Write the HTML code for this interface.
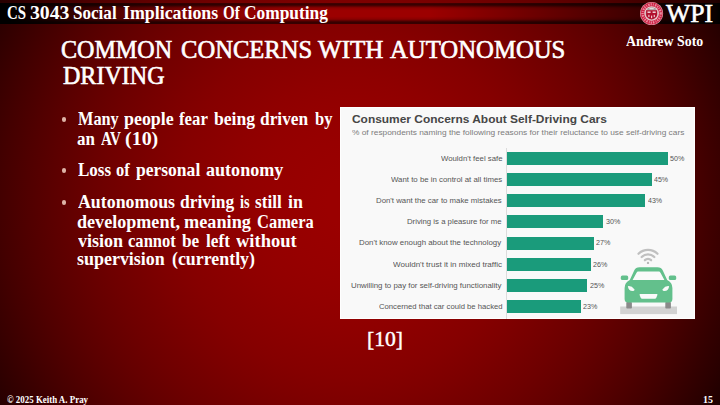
<!DOCTYPE html>
<html>
<head>
<meta charset="utf-8">
<title>Common Concerns With Autonomous Driving</title>
<style>
  html, body { margin: 0; padding: 0; }
  body {
    width: 720px; height: 405px; overflow: hidden; position: relative;
    background: #3a0000;
    font-family: "Liberation Serif", serif; color: #fff;
  }
  .bg {
    position: absolute; left: 0; top: 0; width: 720px; height: 405px;
    background: radial-gradient(circle 500px at 352px 203px, rgb(154,0,0) 0px, rgb(154,0,0) 25px, rgb(152,0,0) 50px, rgb(150,0,0) 75px, rgb(147,0,0) 100px, rgb(143,0,0) 125px, rgb(138,0,0) 150px, rgb(133,0,0) 175px, rgb(126,0,0) 200px, rgb(118,0,0) 225px, rgb(110,0,0) 250px, rgb(101,0,0) 275px, rgb(91,0,0) 300px, rgb(80,0,0) 325px, rgb(68,0,0) 350px, rgb(55,0,0) 375px, rgb(42,0,0) 400px, rgb(27,0,0) 425px, rgb(12,0,0) 450px, rgb(0,0,0) 475px);
  }
  .bar {
    position: absolute; left: 0; top: 2.5px; width: 720px; height: 21px;
    background: linear-gradient(to bottom, #4a0000 0%, #340000 5%, #3c0000 10%, #8a0000 23%, #9c0000 36%, #9c0000 64%, #8a0000 77%, #3c0000 90%, #300000 96%, #440000 100%);
  }
  .barfade {
    position: absolute; left: 0; top: 2.5px; width: 720px; height: 21px;
    background: linear-gradient(to right, rgba(0,0,0,1) 0px, rgba(0,0,0,1) 10px, rgba(0,0,0,0.73) 60px, rgba(0,0,0,0.45) 120px, rgba(0,0,0,0.23) 180px, rgba(0,0,0,0.09) 240px, rgba(0,0,0,0) 290px, rgba(0,0,0,0) 430px, rgba(0,0,0,0.2) 500px, rgba(0,0,0,0.32) 540px, rgba(0,0,0,0.5) 600px, rgba(0,0,0,0.62) 640px, rgba(0,0,0,0.8) 665px, rgba(0,0,0,0.93) 715px, rgba(0,0,0,1) 720px);
  }
  .t { position: absolute; white-space: nowrap; line-height: 1; transform-origin: 0 0; }
  .dot { position: absolute; width: 4.6px; height: 4.6px; border-radius: 50%; background: #ddb3a6; left: 61.6px; }
  .chart { position: absolute; left: 340px; top: 106.8px; width: 355px; height: 212.1px; background: #f9f9f9; box-shadow: inset 0 0 0 1px #fff; }
  .axis { position: absolute; left: 506px; top: 147.5px; width: 1px; height: 171px; background: #dcdcdc; }
  .br { position: absolute; left: 506.7px; height: 13.1px; background: #1a9b7b; }
</style>
</head>
<body>
<div class="bg"></div>
<div class="bar"></div>
<div class="barfade"></div>
<div class="chart"></div>
<div class="axis"></div>
<div class="br" style="top:152.00px;width:161.30px"></div><div class="br" style="top:173.13px;width:145.17px"></div><div class="br" style="top:194.26px;width:138.72px"></div><div class="br" style="top:215.39px;width:96.78px"></div><div class="br" style="top:236.52px;width:87.10px"></div><div class="br" style="top:257.65px;width:83.88px"></div><div class="br" style="top:278.78px;width:80.65px"></div><div class="br" style="top:299.91px;width:74.20px"></div>
<svg class="ov" width="720" height="405" viewBox="0 0 720 405" style="position:absolute;left:0;top:0">
  <!-- car shadow + wheels -->
  <rect x="620.2" y="306.5" width="56.8" height="7.6" fill="#d2d2d2"/>
  <rect x="626.3" y="302" width="5.6" height="6.5" rx="0.8" fill="#8a8a8a"/>
  <rect x="665.3" y="302" width="5.6" height="6.5" rx="0.8" fill="#8a8a8a"/>
  <!-- car body -->
  <g fill="#63c08c">
    <path d="M639.5 267.3 H657.5 Q661.3 267.3 662.8 270.6 L667.2 280 Q672.4 282.5 672.4 288 V299 Q672.4 302.6 668.8 302.6 H628.2 Q624.6 302.6 624.6 299 V288 Q624.6 282.5 629.8 280 L634.2 270.6 Q635.7 267.3 639.5 267.3 Z"/>
    <rect x="620.8" y="275.5" width="7.4" height="4.6" rx="1.6"/>
    <rect x="668.8" y="275.5" width="7.4" height="4.6" rx="1.6"/>
  </g>
  <g fill="#fafafa">
    <path d="M638.3 271.6 H658.7 Q660 271.6 660.6 272.9 L664.4 280 H632.6 L636.4 272.9 Q637 271.6 638.3 271.6 Z"/>
    <path d="M627.9 286.2 Q631.5 285.6 634.6 289.6 Q634.4 291.2 632.6 291.1 Q628.3 290.6 627.9 286.2 Z"/>
    <path d="M669.1 286.2 Q665.5 285.6 662.4 289.6 Q662.6 291.2 664.4 291.1 Q668.7 290.6 669.1 286.2 Z"/>
    <path d="M640.2 294.1 H656.8 Q657.8 294.1 657.4 295.1 L656.3 297.8 Q655.9 298.7 654.9 298.7 H642.1 Q641.1 298.7 640.7 297.8 L639.6 295.1 Q639.2 294.1 640.2 294.1 Z"/>
  </g>
  <!-- wifi -->
  <g fill="none" stroke="#c0c0c0" stroke-width="2.3" stroke-linecap="round">
    <path d="M644.9 260.2 A4.5 4.5 0 0 1 651.1 260.2"/>
    <path d="M641.7 257.0 A9 9 0 0 1 654.3 257.0"/>
    <path d="M638.5 253.8 A13.6 13.6 0 0 1 657.5 253.8"/>
  </g>
  <circle cx="648" cy="262.9" r="1.2" fill="#b8b8b8"/>
  <!-- WPI seal -->
  <g>
    <circle cx="651.6" cy="13.5" r="11.5" fill="#e5a3b0"/>
    <circle cx="651.6" cy="13.5" r="10.9" fill="#cd2143"/>
    <circle cx="651.6" cy="13.5" r="9.05" fill="none" stroke="#ea8da1" stroke-width="2.3" stroke-dasharray="1.2 1.1 0.8 1.3 1.5 1"/>
    <circle cx="651.6" cy="13.5" r="7.3" fill="#ecccd0"/>
    <circle cx="651.6" cy="13.5" r="6.3" fill="#cdaeb0"/>
    <path d="M647.2 8.6 Q651.6 6.3 656 8.6 L655.6 10.1 H647.6 Z" fill="#a79c9e"/>
    <path d="M649.2 8.3 Q651.6 7.4 654 8.3 L653.6 9.2 H649.6 Z" fill="#e4dcdc"/>
    <path d="M646.1 10.2 H657.1 V14.8 Q657.1 18 651.6 19.6 Q646.1 18 646.1 14.8 Z" fill="#b00f2d"/>
    <rect x="647.5" y="11.5" width="3.1" height="1.4" fill="#f5e3e6"/>
    <rect x="652.6" y="11.5" width="3.1" height="1.4" fill="#f5e3e6"/>
    <rect x="648.3" y="14.8" width="1.2" height="2.3" fill="#f0c6cd"/>
    <rect x="653.7" y="14.8" width="1.2" height="2.3" fill="#f0c6cd"/>
    <rect x="651" y="15.6" width="1.2" height="2.6" fill="#f0c6cd"/>
  </g>
</svg>
<div class="dot" style="top:117.0px"></div>
<div class="dot" style="top:168.3px"></div>
<div class="dot" style="top:200.0px"></div>
<div class="t" style='left:61.27px;top:37.22px;font-size:26px;transform:scaleX(0.9258);color:#fff;-webkit-text-stroke:0.65px #fff;'>COMMON</div>
<div class="t" style='left:180.65px;top:37.22px;font-size:26px;transform:scaleX(0.9454);color:#fff;-webkit-text-stroke:0.65px #fff;'>CONCERNS</div>
<div class="t" style='left:317.80px;top:37.22px;font-size:26px;transform:scaleX(0.9639);color:#fff;-webkit-text-stroke:0.65px #fff;'>WITH</div>
<div class="t" style='left:389.76px;top:37.22px;font-size:26px;transform:scaleX(0.9507);color:#fff;-webkit-text-stroke:0.65px #fff;'>AUTONOMOUS</div>
<div class="t" style='left:62.51px;top:63.12px;font-size:26px;transform:scaleX(0.9248);color:#fff;-webkit-text-stroke:0.65px #fff;'>DRIVING</div>
<div class="t" style='left:6.88px;top:4.03px;font-size:18px;transform:scaleX(0.8279);color:#fff;font-weight:bold;'>CS</div>
<div class="t" style='left:30.25px;top:4.03px;font-size:18px;transform:scaleX(1.0971);color:#fff;font-weight:bold;'>3043</div>
<div class="t" style='left:73.49px;top:4.03px;font-size:18px;transform:scaleX(0.9489);color:#fff;font-weight:bold;'>Social</div>
<div class="t" style='left:122.50px;top:4.03px;font-size:18px;transform:scaleX(0.9921);color:#fff;font-weight:bold;'>Implications</div>
<div class="t" style='left:222.67px;top:4.03px;font-size:18px;transform:scaleX(0.8410);color:#fff;font-weight:bold;'>Of</div>
<div class="t" style='left:244.28px;top:4.03px;font-size:18px;transform:scaleX(0.9644);color:#fff;font-weight:bold;'>Computing</div>
<div class="t" style='left:626.00px;top:35.17px;font-size:14px;transform:scaleX(0.9908);color:#fff;font-weight:bold;'>Andrew Soto</div>
<div class="t" style='left:665.60px;top:0.96px;font-size:25px;transform:scaleX(1.0289);color:#fff;-webkit-text-stroke:0.55px #fff;'>WPI</div>
<div class="t" style='left:77.67px;top:110.22px;font-size:18px;transform:scaleX(0.9050);color:#fff;font-weight:bold;'>Many</div>
<div class="t" style='left:124.30px;top:110.22px;font-size:18px;transform:scaleX(0.9947);color:#fff;font-weight:bold;'>people</div>
<div class="t" style='left:179.30px;top:110.22px;font-size:18px;transform:scaleX(0.9306);color:#fff;font-weight:bold;'>fear</div>
<div class="t" style='left:214.20px;top:110.22px;font-size:18px;transform:scaleX(0.9783);color:#fff;font-weight:bold;'>being</div>
<div class="t" style='left:260.42px;top:110.22px;font-size:18px;transform:scaleX(0.9626);color:#fff;font-weight:bold;'>driven</div>
<div class="t" style='left:314.60px;top:110.22px;font-size:18px;transform:scaleX(0.9153);color:#fff;font-weight:bold;'>by</div>
<div class="t" style='left:77.03px;top:129.93px;font-size:18px;transform:scaleX(0.9425);color:#fff;font-weight:bold;'>an</div>
<div class="t" style='left:100.60px;top:129.93px;font-size:18px;transform:scaleX(0.8362);color:#fff;font-weight:bold;'>AV</div>
<div class="t" style='left:125.47px;top:129.93px;font-size:18px;transform:scaleX(1.1090);color:#fff;font-weight:bold;'>(10)</div>
<div class="t" style='left:77.66px;top:161.12px;font-size:18px;transform:scaleX(0.9446);color:#fff;font-weight:bold;'>Loss</div>
<div class="t" style='left:116.34px;top:161.12px;font-size:18px;transform:scaleX(0.9153);color:#fff;font-weight:bold;'>of</div>
<div class="t" style='left:136.20px;top:161.12px;font-size:18px;transform:scaleX(0.9733);color:#fff;font-weight:bold;'>personal</div>
<div class="t" style='left:205.80px;top:161.12px;font-size:18px;transform:scaleX(1.0038);color:#fff;font-weight:bold;'>autonomy</div>
<div class="t" style='left:77.50px;top:193.12px;font-size:18px;transform:scaleX(0.9901);color:#fff;font-weight:bold;'>Autonomous</div>
<div class="t" style='left:180.22px;top:193.12px;font-size:18px;transform:scaleX(0.9691);color:#fff;font-weight:bold;'>driving</div>
<div class="t" style='left:239.90px;top:193.12px;font-size:18px;transform:scaleX(0.7999);color:#fff;font-weight:bold;'>is</div>
<div class="t" style='left:255.42px;top:193.12px;font-size:18px;transform:scaleX(0.9578);color:#fff;font-weight:bold;'>still</div>
<div class="t" style='left:288.05px;top:193.12px;font-size:18px;transform:scaleX(0.9930);color:#fff;font-weight:bold;'>in</div>
<div class="t" style='left:77.20px;top:212.53px;font-size:18px;transform:scaleX(1.0050);color:#fff;font-weight:bold;'>development,</div>
<div class="t" style='left:184.35px;top:212.53px;font-size:18px;transform:scaleX(1.0144);color:#fff;font-weight:bold;'>meaning</div>
<div class="t" style='left:257.11px;top:212.53px;font-size:18px;transform:scaleX(0.9152);color:#fff;font-weight:bold;'>Camera</div>
<div class="t" style='left:77.50px;top:231.53px;font-size:18px;transform:scaleX(1.0032);color:#fff;font-weight:bold;'>vision</div>
<div class="t" style='left:127.84px;top:231.53px;font-size:18px;transform:scaleX(0.9202);color:#fff;font-weight:bold;'>cannot</div>
<div class="t" style='left:182.30px;top:231.53px;font-size:18px;transform:scaleX(0.9572);color:#fff;font-weight:bold;'>be</div>
<div class="t" style='left:206.26px;top:231.53px;font-size:18px;transform:scaleX(0.9582);color:#fff;font-weight:bold;'>left</div>
<div class="t" style='left:236.10px;top:231.53px;font-size:18px;transform:scaleX(1.0285);color:#fff;font-weight:bold;'>without</div>
<div class="t" style='left:77.00px;top:250.43px;font-size:18px;transform:scaleX(0.9970);color:#fff;font-weight:bold;'>supervision</div>
<div class="t" style='left:172.06px;top:250.43px;font-size:18px;transform:scaleX(0.9922);color:#fff;font-weight:bold;'>(currently)</div>
<div class="t" style='left:367.20px;top:328.99px;font-size:21.5px;transform:scaleX(1.0027);color:#fff;-webkit-text-stroke:0.45px #fff;'>[10]</div>
<div class="t" style='left:6.78px;top:395.32px;font-size:10px;transform:scaleX(0.8897);color:#fff;font-weight:bold;'>© 2025 Keith A. Pray</div>
<div class="t" style='left:702.56px;top:395.32px;font-size:10px;transform:scaleX(0.9889);color:#fff;font-weight:bold;'>15</div>
<div class="t" style='left:351.94px;top:114.05px;font-size:11.4px;transform:scaleX(1.0475);color:#464646;font-weight:bold;font-family:"Liberation Sans", sans-serif;'>Consumer Concerns About Self-Driving Cars</div>
<div class="t" style='left:351.93px;top:128.98px;font-size:7.7px;transform:scaleX(1.0848);color:#7c7c7c;font-family:"Liberation Sans", sans-serif;'>% of respondents naming the following reasons for their reluctance to use self-driving cars</div>
<div class="t" style='left:440.70px;top:154.88px;font-size:7.7px;transform:scaleX(1.0126);color:#555;font-family:"Liberation Sans", sans-serif;'>Wouldn't feel safe</div>
<div class="t" style='left:670.17px;top:154.88px;font-size:7.7px;transform:scaleX(0.9294);color:#555;font-family:"Liberation Sans", sans-serif;'>50%</div>
<div class="t" style='left:390.75px;top:176.01px;font-size:7.7px;transform:scaleX(1.0191);color:#555;font-family:"Liberation Sans", sans-serif;'>Want to be in control at all times</div>
<div class="t" style='left:654.27px;top:176.01px;font-size:7.7px;transform:scaleX(0.9142);color:#555;font-family:"Liberation Sans", sans-serif;'>45%</div>
<div class="t" style='left:376.24px;top:197.14px;font-size:7.7px;transform:scaleX(1.0162);color:#555;font-family:"Liberation Sans", sans-serif;'>Don't want the car to make mistakes</div>
<div class="t" style='left:647.82px;top:197.14px;font-size:7.7px;transform:scaleX(0.9142);color:#555;font-family:"Liberation Sans", sans-serif;'>43%</div>
<div class="t" style='left:407.49px;top:218.27px;font-size:7.7px;transform:scaleX(1.0115);color:#555;font-family:"Liberation Sans", sans-serif;'>Driving is a pleasure for me</div>
<div class="t" style='left:605.65px;top:218.27px;font-size:7.7px;transform:scaleX(0.9294);color:#555;font-family:"Liberation Sans", sans-serif;'>30%</div>
<div class="t" style='left:359.49px;top:239.40px;font-size:7.7px;transform:scaleX(1.0219);color:#555;font-family:"Liberation Sans", sans-serif;'>Don't know enough about the technology</div>
<div class="t" style='left:595.97px;top:239.40px;font-size:7.7px;transform:scaleX(0.9294);color:#555;font-family:"Liberation Sans", sans-serif;'>27%</div>
<div class="t" style='left:393.00px;top:260.53px;font-size:7.7px;transform:scaleX(1.0460);color:#555;font-family:"Liberation Sans", sans-serif;'>Wouldn't trust it in mixed traffic</div>
<div class="t" style='left:592.74px;top:260.53px;font-size:7.7px;transform:scaleX(0.9294);color:#555;font-family:"Liberation Sans", sans-serif;'>26%</div>
<div class="t" style='left:351.24px;top:281.66px;font-size:7.7px;transform:scaleX(1.0231);color:#555;font-family:"Liberation Sans", sans-serif;'>Unwilling to pay for self-driving functionality</div>
<div class="t" style='left:589.52px;top:281.66px;font-size:7.7px;transform:scaleX(0.9294);color:#555;font-family:"Liberation Sans", sans-serif;'>25%</div>
<div class="t" style='left:378.50px;top:302.79px;font-size:7.7px;transform:scaleX(1.0007);color:#555;font-family:"Liberation Sans", sans-serif;'>Concerned that car could be hacked</div>
<div class="t" style='left:583.07px;top:302.79px;font-size:7.7px;transform:scaleX(0.9294);color:#555;font-family:"Liberation Sans", sans-serif;'>23%</div>
</body>
</html>
